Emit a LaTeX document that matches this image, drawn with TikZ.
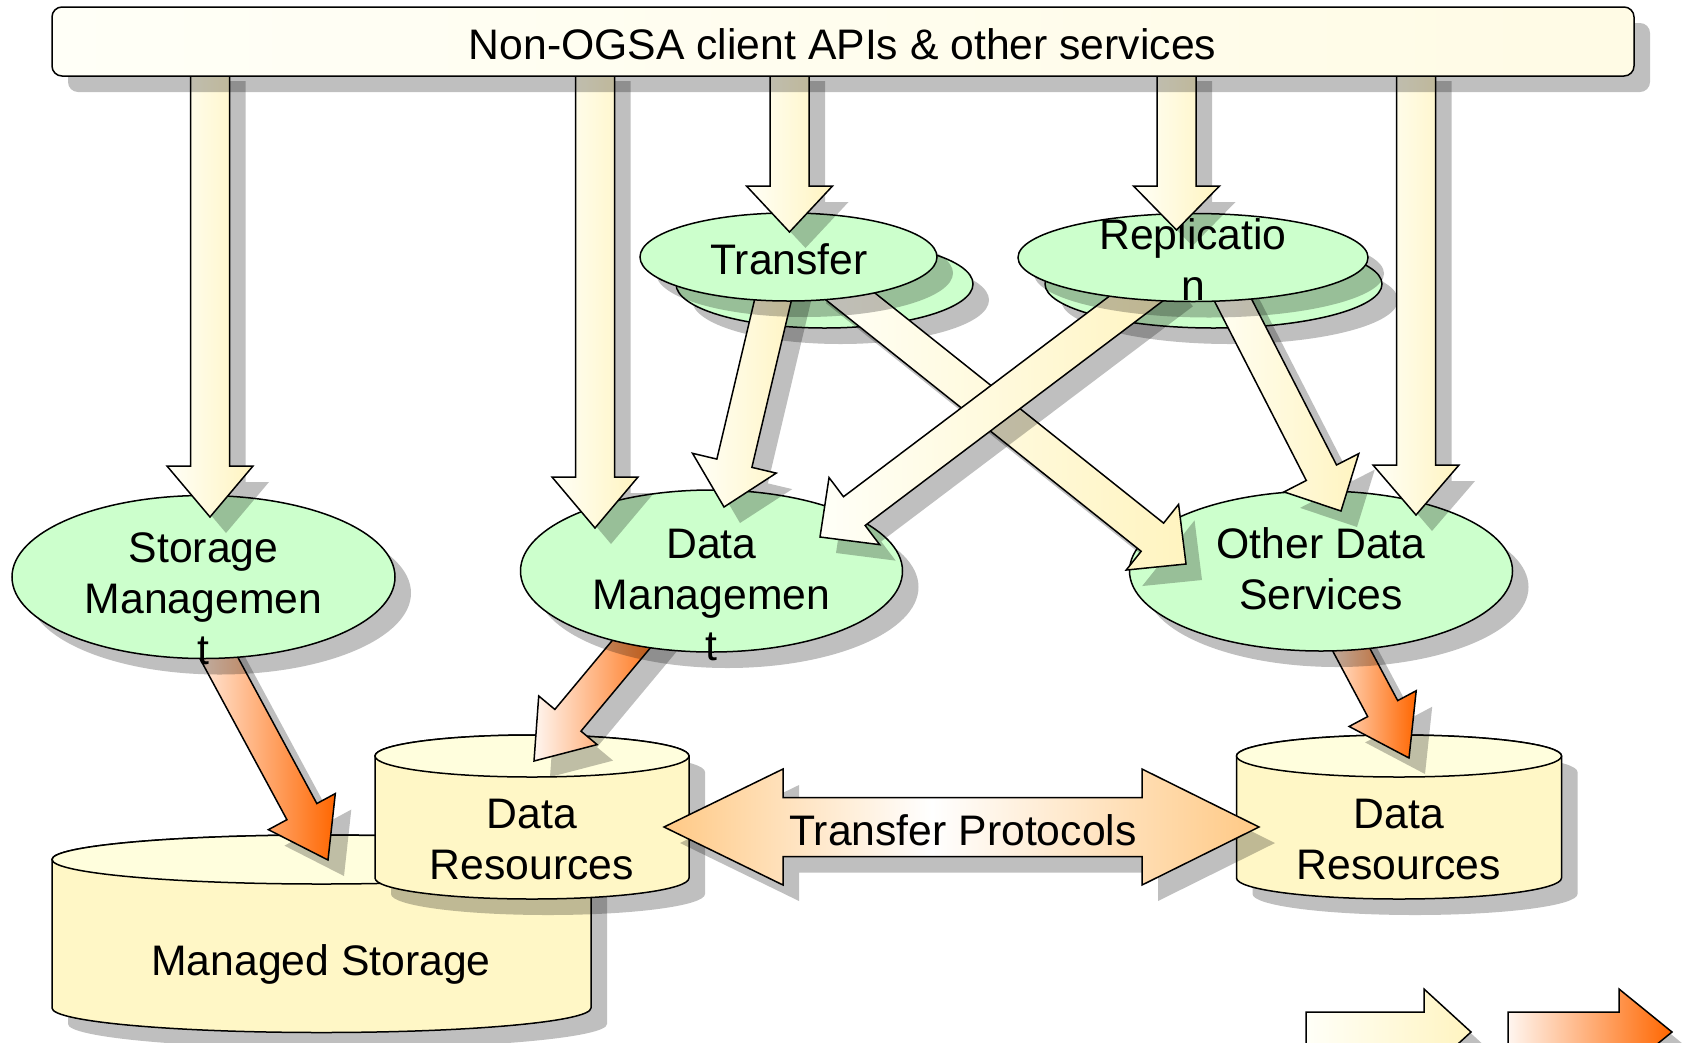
\documentclass[tikz,border=0pt]{standalone}
\usepackage{fontspec}
\setmainfont{Liberation Sans}
\usetikzlibrary{calc,shapes.geometric}
\definecolor{ellgreen}{HTML}{CCFFCC}
\definecolor{yelR}{HTML}{FFF4C0}
\definecolor{yelL}{HTML}{FFFFF8}
\definecolor{orgR}{HTML}{FF6600}
\definecolor{orgL}{HTML}{FFF6F0}
\definecolor{peach}{HTML}{FFC985}
\definecolor{cylbody}{HTML}{FFF7C6}
\definecolor{cyltop}{HTML}{FFFEDD}
\definecolor{barL}{HTML}{FFFFF7}
\definecolor{barR}{HTML}{FFFBE5}
\pgfdeclarehorizontalshading{tpshade}{100bp}{color(0bp)=(peach); color(25bp)=(peach); color(47.5bp)=(white); color(75bp)=(peach); color(100bp)=(peach)}
\tikzset{
  shad/.style={preaction={fill=black, opacity=0.25, transform canvas={shift={(16pt,-16pt)}}}},
  outl/.style={draw=black, line width=1.5pt, line join=miter},
  ell/.style={shape=ellipse, outl, shad, fill=ellgreen, inner sep=0pt},
  yarrow/.style={outl, shad, left color=yelL, right color=yelR},
  oarrow/.style={outl, shad, left color=orgL, right color=orgR},
  tparrow/.style={outl, shad, shading=tpshade},
  cylside/.style={outl, shad, fill=cylbody},
  cyltopst/.style={outl, fill=cyltop},
  barst/.style={outl, shad, left color=barL, right color=barR, rounded corners=10pt, minimum width=1582pt, minimum height=69pt, inner sep=0pt},
  lbl/.style={font=\fontsize{42.7pt}{51pt}\selectfont, inner sep=0pt, align=center},
}
% #1 style, #2 tail, #3 tip, #4 shaft half width, #5 head half width, #6 head length
\newcommand\fatarrow[6]{%
  \coordinate (fab) at ($(#3)!#6!(#2)$);
  \draw[#1] ($(#2)!#4!90:(#3)$) -- ($(fab)!#4!90:(#3)$) -- ($(fab)!#5!90:(#3)$) -- (#3)
    -- ($(fab)!#5!-90:(#3)$) -- ($(fab)!#4!-90:(#3)$) -- ($(#2)!#4!-90:(#3)$) -- cycle;
}
% #1 name, #2 cx, #3 top cy, #4 bottom cy, #5 rx, #6 ry
\newcommand\cylinder[6]{%
  \path[cylside] ({#2-#5},#3) -- ({#2-#5},#4) arc[start angle=180, end angle=360, x radius=#5pt, y radius=#6pt]
    -- ({#2+#5},#3) arc[start angle=0, end angle=180, x radius=#5pt, y radius=#6pt] -- cycle;
  \draw[cyltopst] (#2,#3) ellipse[x radius=#5pt, y radius=#6pt];
  \coordinate (#1) at (#2,{(#3+#4)/2});
}
\begin{document}
\begin{tikzpicture}[x=1pt,y=-1pt]
\useasboundingbox (0,0) rectangle (1683,1042);

% cylinders
\cylinder{ms}{321.5}{859.5}{1008}{269.5}{24.5}
\node[lbl, anchor=base] (mstext) at (321,975) {Managed Storage};
\cylinder{drl}{532}{756}{878}{157}{21}
\node[lbl, anchor=north] (drltext) at (532,799.2) {Data\\Resources};
\cylinder{drr}{1399}{756}{878}{162.5}{21}
\node[lbl, anchor=north] (drrtext) at (1399,799.2) {Data\\Resources};

% transfer protocols double arrow
\coordinate (tpL) at (664,827);
\coordinate (tpR) at (1259,827);
\draw[tparrow] (tpL) -- ($(tpL)+(119,-58)$) -- ($(tpL)+(119,-29.5)$) -- ($(tpR)+(-117,-29.5)$)
  -- ($(tpR)+(-117,-58)$) -- (tpR) -- ($(tpR)+(-117,58)$) -- ($(tpR)+(-117,29.5)$)
  -- ($(tpL)+(119,29.5)$) -- ($(tpL)+(119,58)$) -- cycle;
\node[lbl, anchor=base] (tptext) at (963,845.6) {Transfer Protocols};

% orange arrows (under their source ellipses)
\coordinate (o1s) at (199.5,622); \coordinate (o1t) at (328,860);
\coordinate (o2s) at (655.6,615); \coordinate (o2t) at (534,761);
\coordinate (o3s) at (1333.7,616.7); \coordinate (o3t) at (1409,758);
\fatarrow{oarrow}{o1s}{o1t}{17pt}{38pt}{55pt}
\fatarrow{oarrow}{o2s}{o2t}{17pt}{38pt}{53pt}
\fatarrow{oarrow}{o3s}{o3t}{17pt}{38pt}{56pt}

% lower ellipses
\node[ell, minimum width=383pt, minimum height=163pt] (sm) at (203.5,577) {};
\node[lbl, anchor=north] (smtext) at (203.5,532) {Storage\\Managemen\\t};
\node[ell, minimum width=382pt, minimum height=162pt] (dm) at (711.5,571) {};
\node[lbl, anchor=north] (dmtext) at (711.5,529) {Data\\Managemen\\t};
\node[ell, minimum width=383pt, minimum height=160pt] (ods) at (1321,571) {};
\node[lbl, anchor=north] (odstext) at (1321,527.5) {Other Data\\Services};

% back ellipses of the stacked services
\node[ell, minimum width=297pt, minimum height=88pt] (trb) at (824.5,284) {};
\node[ell, minimum width=337pt, minimum height=88pt] (repb) at (1213.5,284) {};

% diagonal yellow arrows
\coordinate (d1s) at (782,262); \coordinate (d1t) at (724,507);
\coordinate (d2s) at (821,273); \coordinate (d2t) at (1186,564);
\coordinate (d3s) at (1166,276); \coordinate (d3t) at (820,537);
\coordinate (d4s) at (1215,265); \coordinate (d4t) at (1341,511);
\fatarrow{yarrow}{d1s}{d1t}{18pt}{43pt}{45pt}
\fatarrow{yarrow}{d2s}{d2t}{18pt}{42pt}{43pt}
\fatarrow{yarrow}{d4s}{d4t}{17pt}{42pt}{43pt}
\fatarrow{yarrow}{d3s}{d3t}{18pt}{42pt}{43pt}

% front ellipses
\node[ell, minimum width=297pt, minimum height=88pt] (tr) at (788.5,257) {};
\node[lbl, anchor=base] (trtext) at (789,274) {Transfer};
\node[ell, minimum width=350pt, minimum height=88pt] (rep) at (1193,257.5) {};
\node[lbl, anchor=north] (reptext) at (1193,218.5) {Replicatio\\n};

% vertical arrows from the top bar
\coordinate (a1s) at (210,65); \coordinate (a1t) at (210,517);
\coordinate (a2s) at (595,65); \coordinate (a2t) at (595,528);
\coordinate (a3s) at (789.5,65); \coordinate (a3t) at (789.5,232);
\coordinate (a4s) at (1176.5,65); \coordinate (a4t) at (1176.5,230);
\coordinate (a5s) at (1416,65); \coordinate (a5t) at (1416,515);
\fatarrow{yarrow}{a1s}{a1t}{19.5pt}{43pt}{51pt}
\fatarrow{yarrow}{a2s}{a2t}{19.5pt}{43pt}{51pt}
\fatarrow{yarrow}{a3s}{a3t}{19.5pt}{43pt}{46pt}
\fatarrow{yarrow}{a4s}{a4t}{19.5pt}{43pt}{44pt}
\fatarrow{yarrow}{a5s}{a5t}{19.5pt}{43pt}{50pt}

% top bar
\node[barst] (bar) at (843,41.5) {};
\node[lbl, anchor=base] (bartext) at (842.5,59) {Non-OGSA client APIs \& other services};

% legend arrows
\coordinate (lys) at (1306,1032); \coordinate (lyt) at (1471,1032);
\coordinate (los) at (1508,1032); \coordinate (lot) at (1672,1032);
\fatarrow{yarrow}{lys}{lyt}{20pt}{43pt}{47pt}
\fatarrow{oarrow}{los}{lot}{20pt}{43pt}{53pt}
\end{tikzpicture}
\end{document}
